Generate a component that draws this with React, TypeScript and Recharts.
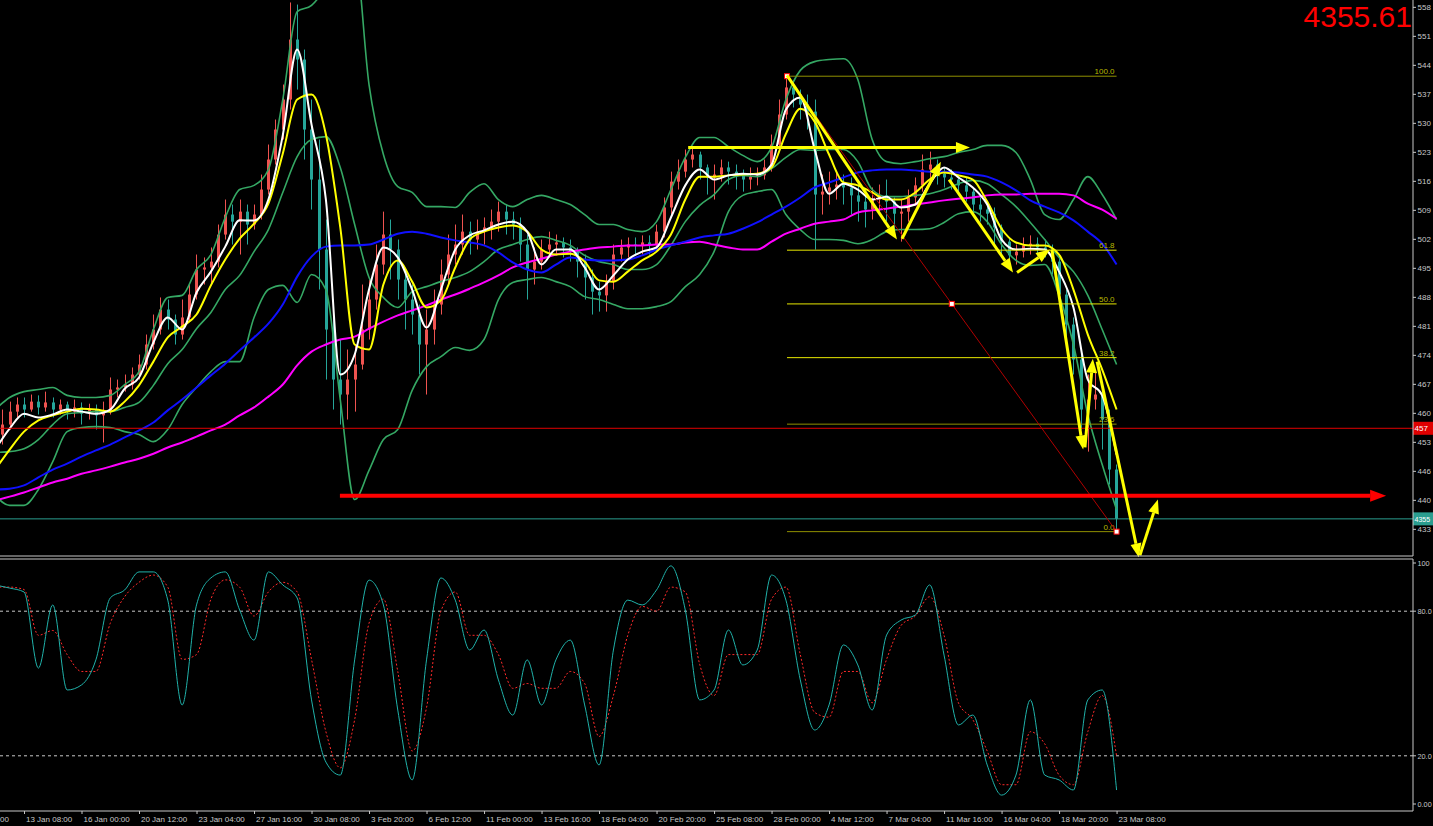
import React from "react";
import { ComposedChart, Line, Bar, XAxis, YAxis, ReferenceLine } from "recharts";

const W = 1433;
const MAIN_H = 557;
const STOCH_H = 269;
const AXIS = "#c8c8c8";
const UP = "#ef5350"; // rising candles are red on this terminal
const DOWN = "#26a69a";
const BB = "#35a864";
const FONT = "'Liberation Sans', Arial, sans-serif";

// x is the H4 bar number, bar 0 = 13 Jan 08:00
const X_DOMAIN: [number, number] = [-6.68, 386.48];
const PRICE_DOMAIN: [number, number] = [4266.5, 5600.9];
const STOCH_DOMAIN: [number, number] = [-2.9, 101.66];

const timeTicks = [-16, 0, 16, 32, 48, 64, 80, 96, 112, 128, 144, 160, 176, 192, 208, 224, 240, 256, 272, 288, 304];
const timeLabels = [
  "8 Jan 16:00", "13 Jan 08:00", "16 Jan 00:00", "20 Jan 12:00", "23 Jan 04:00", "27 Jan 16:00", "30 Jan 08:00",
  "3 Feb 20:00", "6 Feb 12:00", "11 Feb 00:00", "13 Feb 16:00", "18 Feb 04:00", "20 Feb 20:00", "25 Feb 08:00",
  "28 Feb 00:00", "4 Mar 12:00", "7 Mar 04:00", "11 Mar 16:00", "16 Mar 04:00", "18 Mar 20:00", "23 Mar 08:00",
];
const priceTicks = [
  4330.5, 4400.1, 4469.7, 4539.3, 4608.9, 4678.5, 4748.1, 4817.7, 4887.3, 4956.9,
  5026.5, 5096.1, 5165.7, 5235.3, 5304.9, 5374.5, 5444.1, 5513.7, 5583.3,
];
const stochTicks = [0, 20, 80, 100];
const stochTickLabels = ["0.00", "20.0", "80.0", "100"];

const lastPrice = 4355.61;
const redLevel = 4573;
const supportLevel = 4411;
const fibHigh = { b: 212.3, p: 5418 };
const fibLow = { b: 304, p: 4325 };
const fibLevels = [100, 61.8, 50, 38.2, 23.6, 0];

// open, high, low, close — one candle every 2 bars from bar -6
const ohlc: number[][] = [
  [4558,4618,4534,4582],[4582,4637,4570,4613],[4613,4647,4599,4630],[4630,4647,4599,4618],[4618,4654,4613,4637],[4637,4652,4606,4623],[4623,4661,4613,4635],[4635,4647,4599,4618],[4618,4642,4606,4630],[4630,4637,4594,4613],
  [4613,4642,4599,4623],[4623,4635,4582,4608],[4608,4632,4594,4618],[4618,4630,4570,4604],[4604,4637,4539,4613],[4613,4695,4606,4666],[4666,4690,4647,4671],[4671,4702,4661,4678],[4678,4719,4666,4702],[4702,4750,4690,4726],
  [4726,4798,4714,4774],[4774,4846,4762,4810],[4810,4887,4798,4858],[4858,4882,4810,4834],[4834,4846,4774,4798],[4798,4882,4786,4839],[4839,4918,4829,4894],[4894,4990,4882,4954],[4954,4983,4918,4959],[4959,5007,4918,4973],
  [4973,5062,4959,5038],[5038,5122,5026,5086],[5086,5110,5014,5069],[5069,5122,4990,5093],[5093,5110,5014,5062],[5062,5110,5050,5086],[5086,5182,5074,5146],[5146,5254,5134,5218],[5218,5314,5206,5290],[5290,5398,5266,5362],
  [5362,5595,5338,5506],[5506,5590,5386,5458],[5458,5482,5218,5290],[5290,5362,5098,5170],[5170,5266,4906,5002],[5002,5074,4690,4810],[4810,4882,4618,4690],[4690,4786,4582,4654],[4654,4762,4594,4690],[4690,4774,4613,4726],
  [4726,4918,4714,4810],[4810,4930,4786,4882],[4882,5014,4858,4966],[4966,5093,4942,5038],[5038,5074,4930,5002],[5002,5026,4882,4930],[4930,4954,4810,4882],[4882,4918,4798,4846],[4846,4870,4702,4774],[4774,4858,4654,4810],
  [4810,4906,4774,4870],[4870,4978,4846,4942],[4942,5038,4918,4990],[4990,5062,4966,5014],[5014,5086,4990,5045],[5045,5069,4990,5026],[5026,5074,5002,5045],[5045,5079,5014,5055],[5055,5098,5026,5069],[5069,5117,5045,5093],
  [5093,5110,5038,5074],[5074,5093,5026,5062],[5062,5079,4973,5014],[5014,5038,4882,4954],[4954,5007,4918,4973],[4973,5026,4954,5002],[5002,5045,4983,5014],[5014,5038,4988,5019],[5019,5031,4983,5007],[5007,5026,4973,4997],
  [4997,5007,4935,4973],[4973,4990,4882,4935],[4935,4954,4846,4901],[4901,4925,4853,4892],[4892,4942,4853,4925],[4925,5014,4906,4990],[4990,5026,4973,5007],[5007,5031,4983,5014],[5014,5031,4988,5012],[5012,5036,4990,5019],
  [5019,5036,4990,5014],[5014,5062,5002,5045],[5045,5127,5031,5103],[5103,5189,5086,5165],[5165,5218,5146,5189],[5189,5242,5175,5218],[5218,5247,5199,5230],[5230,5237,5170,5199],[5199,5206,5134,5175],[5175,5206,5122,5182],
  [5182,5218,5165,5199],[5199,5213,5158,5189],[5189,5206,5146,5180],[5180,5194,5141,5170],[5170,5199,5146,5177],[5177,5199,5156,5180],[5180,5218,5170,5199],[5199,5278,5189,5254],[5254,5362,5242,5326],[5326,5420,5314,5391],
  [5391,5405,5343,5374],[5374,5386,5314,5350],[5350,5374,5290,5333],[5333,5362,5002,5134],[5134,5182,5086,5141],[5141,5189,5110,5151],[5151,5189,5122,5158],[5158,5182,5110,5151],[5151,5175,5086,5132],[5132,5158,5069,5117],
  [5117,5134,5055,5098],[5098,5151,5074,5122],[5122,5158,5093,5132],[5132,5170,5069,5117],[5117,5127,5038,5088],[5088,5122,5021,5093],[5093,5146,5069,5127],[5127,5175,5110,5156],[5156,5230,5141,5194],[5194,5237,5158,5206],
  [5206,5218,5158,5184],[5184,5199,5151,5175],[5175,5194,5146,5170],[5170,5182,5134,5156],[5156,5175,5117,5141],[5141,5151,5086,5110],[5110,5127,5069,5098],[5098,5117,5062,5088],[5088,5103,5014,5055],[5055,5062,4983,5021],
  [5021,5031,4966,4988],[4988,5014,4966,4997],[4997,5031,4983,5012],[5012,5036,4990,5016],[5016,5031,4988,5007],[5007,5026,4983,5002],[5002,5014,4942,4973],[4973,4990,4870,4894],[4894,4906,4786,4822],[4822,4839,4702,4738],
  [4738,4750,4570,4618],[4618,4702,4517,4642],[4642,4714,4618,4654],[4654,4678,4522,4594],[4594,4618,4438,4474],[4474,4486,4325,4355.61],
];

// indicator readings, one every 4 bars from bar -8
const bbUpper = [
  4618,4647,4661,4666,4671,4652,4647,4647,4652,4678, 4709,4810,4887,4892,4954,4990,5079,5146,5156,5194,
  5362,5573,5588,5638,5746,5722,5398,5230,5153,5139, 5105,5105,5103,5139,5160,5122,5105,5122,5132,5122,
  5110,5086,5062,5062,5050,5045,5069,5146,5223,5271, 5271,5249,5228,5213,5247,5362,5432,5453,5458,5460,
  5410,5266,5213,5208,5213,5220,5225,5235,5242,5252, 5252,5235,5170,5086,5074,5122,5177,5134,5074,
];
const bbMiddle = [
  4515,4517,4524,4546,4582,4608,4611,4613,4613,4623, 4635,4676,4728,4762,4812,4851,4906,4940,4997,5050,
  5139,5225,5266,5273,5199,5062,4935,4887,4863,4901, 4913,4925,4935,4949,4973,5002,5014,5026,5033,5024,
  5012,4988,4973,4966,4954,4954,4966,5012,5069,5108, 5134,5170,5180,5177,5196,5223,5242,5240,5242,5242,
  5213,5146,5129,5129,5132,5136,5146,5160,5168,5160, 5134,5105,5067,5026,4983,4949,4892,4810,4726,
];
const bbLower = [
  4412,4388,4388,4426,4493,4565,4575,4577,4575,4565, 4558,4541,4570,4630,4671,4709,4733,4733,4839,4906,
  4916,4875,4942,4906,4642,4402,4472,4546,4570,4664, 4721,4745,4767,4760,4786,4882,4923,4930,4935,4925,
  4913,4889,4882,4870,4860,4860,4865,4877,4913,4942, 4997,5093,5132,5141,5146,5086,5050,5026,5026,5024,
  5016,5026,5045,5050,5050,5052,5067,5088,5093,5069, 5014,4976,4964,4966,4892,4774,4606,4486,4378,
];
const maWhite = [
  4522,4572,4608,4599,4606,4618,4613,4608,4618,4668, 4695,4779,4839,4810,4899,4949,5009,5072,5072,5122,
  5276,5482,5302,5122,4702,4750,4906,5007,4983,4906, 4815,4906,5002,5036,5048,5062,5069,5045,4966,5002,
  5002,4959,4906,4940,4978,4997,5007,5079,5156,5194, 5170,5180,5184,5182,5206,5338,5367,5242,5136,5160,
  5146,5122,5129,5103,5110,5160,5199,5175,5151,5110, 5026,5002,5004,5002,4949,4863,4690,4652,4510,
];
const maYellow = [
  4474,4522,4565,4592,4604,4613,4620,4618,4613,4637, 4676,4733,4791,4817,4846,4916,4978,5028,5064,5112,
  5232,5362,5374,5278,5055,4774,4762,4918,4976,4925, 4863,4880,4959,5026,5045,5055,5060,5045,5002,4990,
  4992,4973,4928,4925,4949,4976,4997,5038,5122,5177, 5177,5180,5182,5184,5199,5280,5340,5309,5230,5163,
  5156,5139,5122,5122,5139,5170,5187,5180,5170,5117, 5052,5019,5012,5012,4990,4906,4798,4714,4618,
];
const maBlue = [
  4426,4428,4436,4455,4474,4488,4505,4520,4534,4551, 4568,4587,4616,4642,4671,4700,4728,4760,4791,4824,
  4870,4937,4985,5009,5012,5012,5014,5026,5040,5045, 5040,5031,5024,5019,5012,4995,4971,4954,4947,4966,
  4983,4978,4976,4976,4978,4988,5002,5012,5021,5031, 5036,5040,5052,5067,5086,5105,5127,5151,5163,5175,
  5187,5192,5194,5194,5192,5189,5189,5187,5182,5177, 5163,5144,5120,5105,5091,5072,5045,5016,4966,
];
const maMagenta = [
  4400,4409,4419,4431,4443,4452,4464,4472,4481,4491, 4500,4512,4527,4539,4553,4568,4582,4604,4623,4649,
  4678,4724,4757,4774,4786,4793,4812,4829,4844,4856, 4868,4882,4894,4908,4923,4940,4959,4971,4980,4990,
  4997,5002,5007,5009,5012,5012,5014,5014,5019,5021, 5014,5007,5002,5002,5021,5040,5052,5064,5069,5074,
  5091,5096,5100,5105,5110,5115,5120,5124,5127,5132, 5134,5134,5136,5136,5136,5132,5112,5098,5076,
];
const stochMain = [
  90.9,89.6,88,56.4,82.6,47.3,49.4,59.8,85.5,88.8, 96.3,96.3,84.6,41.1,82.6,93.8,96.3,80.5,68,96.3,
  90.9,85.5,43.2,17.4,12,59.8,92.9,82.6,39,10, 59.8,93.8,84.6,63.9,72.2,51.5,36.9,59.8,41.1,59.8,
  68,41.1,16.2,63.9,84.6,82.6,88.8,98.8,80.5,43.2, 47.3,72.2,57.7,63.9,95,84.6,51.5,30.7,41.1,66,
  57.7,39,70.1,76.3,78.4,90.9,61.8,32.8,36.9,16.2, 3.7,12,43.2,12,10,5.8,43.2,47.3,5.8,
];
const stochSignal = [
  90,90,89,70,72,62,55,55,75,86, 92,95,90,60,62,85,93,90,78,88,
  92,88,60,30,15,35,75,85,55,22, 40,80,88,70,70,62,48,50,48,48,
  55,50,28,45,70,82,80,90,88,58, 45,62,62,62,85,90,62,38,36,55,
  55,42,60,74,78,86,70,42,35,22, 8,8,30,25,12,8,30,45,20,
];

// hand-drawn arrows: [bar, price] -> [bar, price]
const yellowArrows = [
  [[212.3, 5420], [242.9, 5026]],
  [[244.3, 5028], [255.1, 5213]],
  [[257.4, 5170], [275.2, 4947]],
  [[276.3, 4947], [285.5, 5002]],
  [[286.0, 5002], [294.7, 4522]],
  [[295.2, 4527], [297.4, 4740]],
  [[298.6, 4733], [310.2, 4263]],
  [[310.5, 4268], [315.5, 4402]],
  [[184.8, 5247], [263.2, 5247]],
];
const redArrow = [[87.9, supportLevel], [379, supportLevel]];

const candleRows = ohlc.map(([o, h, l, c], i) => ({ b: -6 + 2 * i, o, h, l, c }));
const lineRows = bbUpper.map((_, i) => ({
  b: -8 + 4 * i,
  up: bbUpper[i],
  mid: bbMiddle[i],
  low: bbLower[i],
  white: maWhite[i],
  yellow: maYellow[i],
  blue: maBlue[i],
  magenta: maMagenta[i],
}));
const stochRows = stochMain.map((k, i) => ({ b: -8 + 4 * i, k, d: stochSignal[i] }));

// the window edge cuts the price scale: only the leading digits are visible
const leading = (v: number, n: number) => v.toFixed(2).slice(0, n);

function Candle(props: any) {
  const { x, y, width, height, payload } = props;
  if (!payload) return null;
  const { o, h, l, c } = payload;
  const top = Math.min(y, y + height);
  const span = Math.abs(height);
  const k = h > l ? span / (h - l) : 0;
  const color = c >= o ? UP : DOWN;
  const bodyTop = top + (h - Math.max(o, c)) * k;
  const bodyH = Math.max(1, Math.abs(c - o) * k);
  const cx = Math.round(x + width / 2) + 0.5;
  return (
    <g>
      <line x1={cx} x2={cx} y1={top} y2={top + span} stroke={color} strokeWidth={1} />
      <rect x={cx - 1.5} y={bodyTop} width={3} height={bodyH} fill={color} />
    </g>
  );
}

function PriceTick(props: any) {
  const { x, y, payload } = props;
  return (
    <g>
      <line x1={x} x2={x + 3} y1={y} y2={y} stroke={AXIS} />
      <text x={x + 4.5} y={y + 3} fill={AXIS} fontSize={8} fontFamily={FONT}>
        {leading(Number(payload.value), 3)}
      </text>
    </g>
  );
}

function StochTick(props: any) {
  const { x, y, payload } = props;
  const s = stochTickLabels[stochTicks.indexOf(payload.value)];
  return (
    <g>
      <line x1={x} x2={x + 3} y1={y} y2={y} stroke={AXIS} />
      <text x={x + 4.5} y={y + 3} fill={AXIS} fontSize={7.3} fontFamily={FONT}>
        {s}
      </text>
    </g>
  );
}

function TimeTick(props: any) {
  const { x, y, payload } = props;
  const i = timeTicks.indexOf(payload.value);
  const label = timeLabels[i] ?? "";
  const cut = x + 2 < 0;
  return (
    <g>
      <line x1={x + 0.5} x2={x + 0.5} y1={y} y2={y + 3} stroke={AXIS} />
      <text x={cut ? 0 : x + 2} y={y + 11} fill={AXIS} fontSize={8} fontFamily={FONT}>
        {cut ? label.slice(-2) : label}
      </text>
    </g>
  );
}

function arrowShape(color: string, width: number, head: number, half: number) {
  return (p: any) => {
    const { x1, y1, x2, y2 } = p;
    const dx = x2 - x1;
    const dy = y2 - y1;
    const len = Math.hypot(dx, dy) || 1;
    const ux = dx / len;
    const uy = dy / len;
    const bx = x2 - ux * head;
    const by = y2 - uy * head;
    return (
      <g>
        <line x1={x1} y1={y1} x2={bx} y2={by} stroke={color} strokeWidth={width} />
        <polygon
          points={`${x2},${y2} ${bx - uy * half},${by + ux * half} ${bx + uy * half},${by - ux * half}`}
          fill={color}
        />
      </g>
    );
  };
}

function levelShape(color: string, box: string, text: string, size: number) {
  return (p: any) => {
    const left = Math.min(p.x1, p.x2);
    const right = Math.max(p.x1, p.x2);
    return (
      <g>
        <line x1={left} y1={p.y1} x2={right} y2={p.y2} stroke={color} strokeWidth={1} />
        <rect x={right} y={p.y1 - 6.5} width={20} height={13} fill={box} />
        <text x={right + 1.5} y={p.y1 + 3} fill="#ffffff" fontSize={size} fontFamily={FONT}>
          {text}
        </text>
      </g>
    );
  };
}

function fibShape(level: number) {
  const dim = level === 100 || level === 23.6 || level === 0;
  return (p: any) => (
    <g>
      <line x1={p.x1} y1={p.y1} x2={p.x2} y2={p.y2} stroke={dim ? "#8f8f00" : "#e8e800"} strokeWidth={1} />
      <text x={Math.max(p.x1, p.x2) - 2} y={p.y1 - 2} textAnchor="end" fill="#b8b800" fontSize={8} fontFamily={FONT}>
        {level.toFixed(1)}
      </text>
    </g>
  );
}

function fibDiagonal(p: any) {
  const mx = (p.x1 + p.x2) / 2;
  const my = (p.y1 + p.y2) / 2;
  const sq = (x: number, y: number) => (
    <rect x={x - 2.5} y={y - 2.5} width={5} height={5} fill="#ffffff" stroke="#ff0000" strokeWidth={1} />
  );
  return (
    <g>
      <line x1={p.x1} y1={p.y1} x2={p.x2} y2={p.y2} stroke="#b00000" strokeWidth={1} />
      {sq(p.x1, p.y1)}
      {sq(mx, my)}
      {sq(p.x2, p.y2)}
    </g>
  );
}

const fibPrice = (lvl: number) => fibLow.p + ((fibHigh.p - fibLow.p) * lvl) / 100;

export default function App() {
  return (
    <div
      style={{
        position: "fixed",
        left: 0,
        top: 0,
        width: W,
        height: 826,
        background: "#000000",
        overflow: "hidden",
        fontFamily: FONT,
      }}
    >
      <div style={{ position: "absolute", left: 0, top: 0 }}>
        <ComposedChart width={W} height={MAIN_H} data={candleRows} margin={{ top: 0, right: 0, bottom: 0, left: 0 }}>
          <XAxis
            dataKey="b"
            type="number"
            domain={X_DOMAIN}
            allowDataOverflow
            height={1}
            tick={false}
            tickLine={false}
            axisLine={{ stroke: AXIS }}
          />
          <YAxis
            orientation="right"
            type="number"
            domain={PRICE_DOMAIN}
            allowDataOverflow
            ticks={priceTicks}
            interval={0}
            width={20}
            tickSize={0}
            tickMargin={0}
            tickLine={false}
            tick={<PriceTick />}
            axisLine={{ stroke: AXIS }}
          />
          <Bar dataKey={(d: any) => [d.l, d.h]} shape={<Candle />} barSize={3} isAnimationActive={false} />
          <Line data={lineRows} dataKey="up" type="monotone" stroke={BB} strokeWidth={1.6} dot={false} isAnimationActive={false} />
          <Line data={lineRows} dataKey="mid" type="monotone" stroke={BB} strokeWidth={1.6} dot={false} isAnimationActive={false} />
          <Line data={lineRows} dataKey="low" type="monotone" stroke={BB} strokeWidth={1.6} dot={false} isAnimationActive={false} />
          <Line data={lineRows} dataKey="magenta" type="monotone" stroke="#ff00ff" strokeWidth={2} dot={false} isAnimationActive={false} />
          <Line data={lineRows} dataKey="blue" type="monotone" stroke="#1010ff" strokeWidth={2} dot={false} isAnimationActive={false} />
          <Line data={lineRows} dataKey="yellow" type="monotone" stroke="#ffff00" strokeWidth={2} dot={false} isAnimationActive={false} />
          <Line data={lineRows} dataKey="white" type="monotone" stroke="#ffffff" strokeWidth={2} dot={false} isAnimationActive={false} />

          <ReferenceLine y={redLevel} ifOverflow="visible" shape={levelShape("#e00000", "#e00000", leading(redLevel, 3), 8)} />
          <ReferenceLine y={lastPrice} ifOverflow="visible" shape={levelShape("#2a9d8f", "#2a9d8f", leading(lastPrice, 4), 7)} />

          {fibLevels.map((lvl) => (
            <ReferenceLine
              key={lvl}
              ifOverflow="visible"
              segment={[{ x: fibHigh.b, y: fibPrice(lvl) }, { x: fibLow.b, y: fibPrice(lvl) }]}
              shape={fibShape(lvl)}
            />
          ))}
          <ReferenceLine
            ifOverflow="visible"
            segment={[{ x: fibHigh.b, y: fibHigh.p }, { x: fibLow.b, y: fibLow.p }]}
            shape={fibDiagonal}
          />

          <ReferenceLine
            ifOverflow="visible"
            segment={[{ x: redArrow[0][0], y: redArrow[0][1] }, { x: redArrow[1][0], y: redArrow[1][1] }]}
            shape={arrowShape("#ff0000", 4, 16, 6)}
          />
          {yellowArrows.map(([a, z], i) => (
            <ReferenceLine
              key={i}
              ifOverflow="visible"
              segment={[{ x: a[0], y: a[1] }, { x: z[0], y: z[1] }]}
              shape={arrowShape("#ffff00", 3, 14, 5.5)}
            />
          ))}
        </ComposedChart>
      </div>

      <div style={{ position: "absolute", left: 0, top: MAIN_H }}>
        <ComposedChart width={W} height={STOCH_H} data={stochRows} margin={{ top: 2, right: 0, bottom: 0, left: 0 }}>
          <XAxis
            dataKey="b"
            type="number"
            domain={X_DOMAIN}
            allowDataOverflow
            ticks={timeTicks}
            interval={0}
            height={15}
            tickSize={0}
            tickMargin={0}
            tickLine={false}
            tick={<TimeTick />}
            axisLine={{ stroke: AXIS }}
          />
          <YAxis
            orientation="right"
            type="number"
            domain={STOCH_DOMAIN}
            allowDataOverflow
            ticks={stochTicks}
            interval={0}
            width={20}
            tickSize={0}
            tickMargin={0}
            tickLine={false}
            tick={<StochTick />}
            axisLine={{ stroke: AXIS }}
          />
          <ReferenceLine y={STOCH_DOMAIN[1]} ifOverflow="visible" stroke={AXIS} />
          <ReferenceLine y={80} stroke={AXIS} strokeDasharray="3 3" />
          <ReferenceLine y={20} stroke={AXIS} strokeDasharray="3 3" />
          <Line dataKey="d" type="monotone" stroke="#ff2a2a" strokeWidth={1} strokeDasharray="2 2" dot={false} isAnimationActive={false} />
          <Line dataKey="k" type="monotone" stroke="#20b2aa" strokeWidth={1} dot={false} isAnimationActive={false} />
        </ComposedChart>
      </div>

      <div
        style={{
          position: "absolute",
          right: 21,
          top: 2,
          color: "#ff0000",
          fontSize: 30,
          lineHeight: 1,
          fontFamily: "'Liberation Sans', Arial, sans-serif",
        }}
      >
        {lastPrice.toFixed(2)}
      </div>
    </div>
  );
}
